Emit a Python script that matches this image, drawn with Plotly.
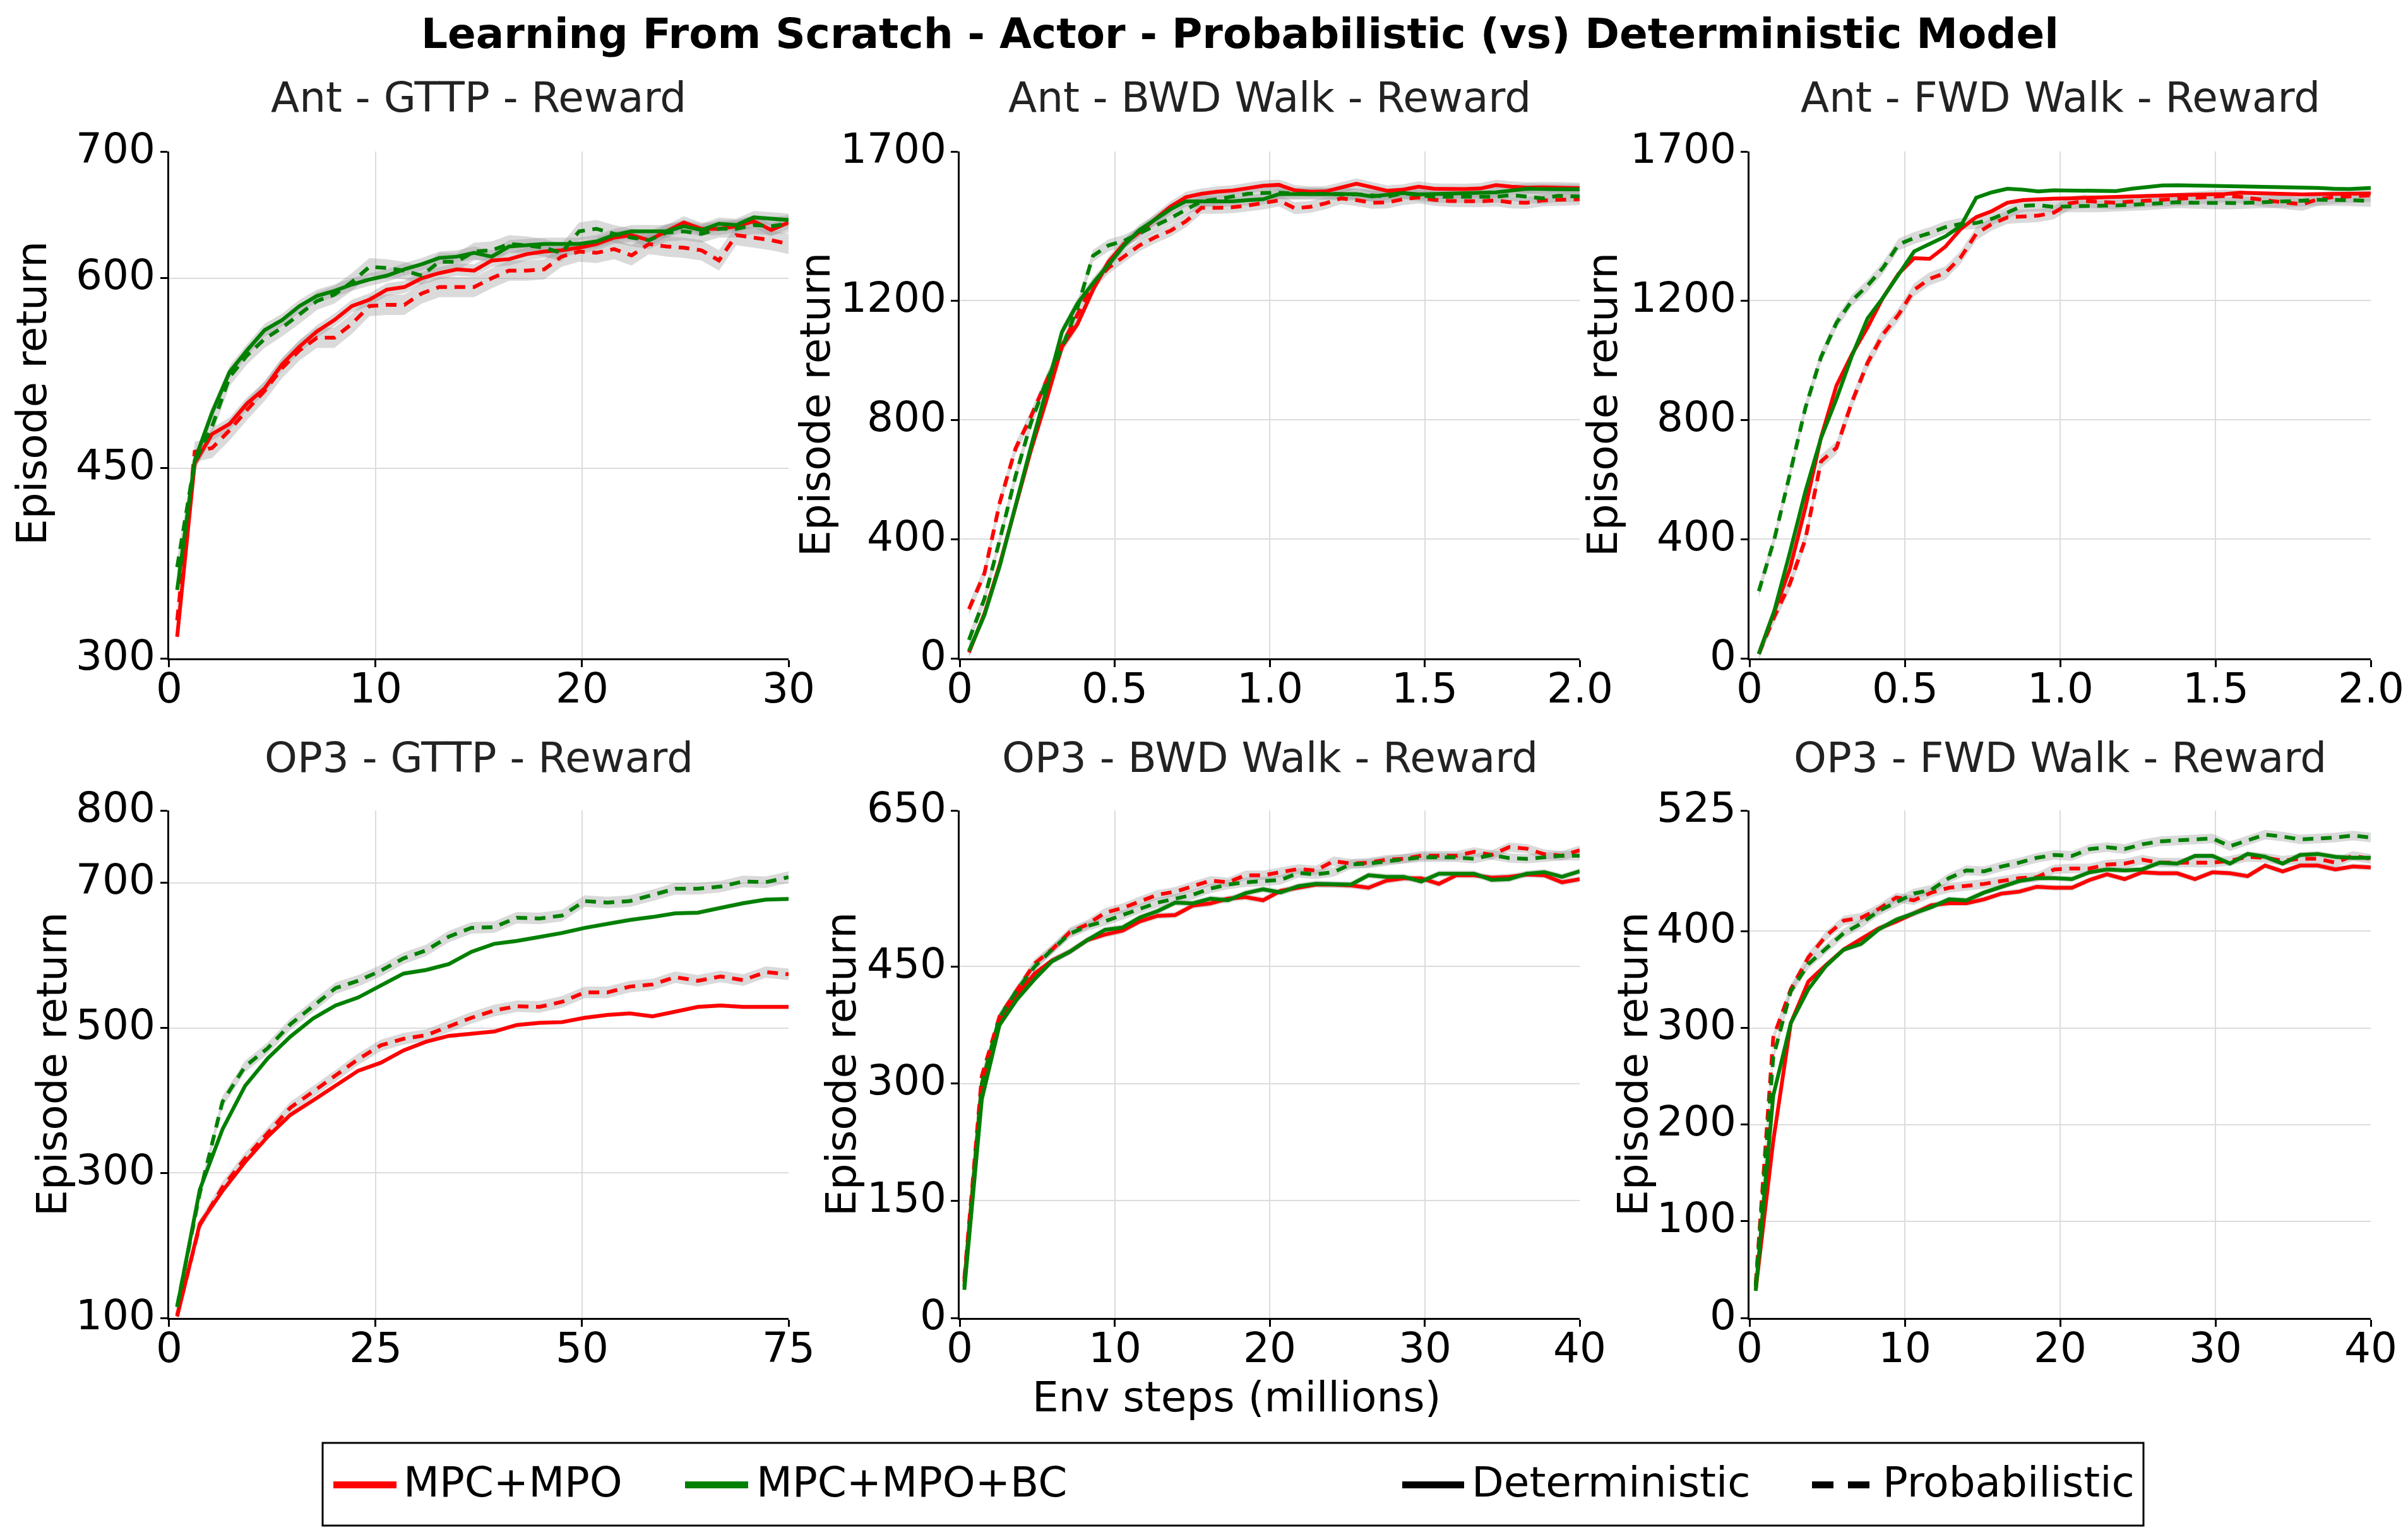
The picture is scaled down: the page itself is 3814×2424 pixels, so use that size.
import numpy as np
import plotly.graph_objects as go

W, H = 3814, 2424
FONT = "DejaVu Sans"
FS = 66
RED = "#ff0000"
GREEN = "#008000"
BAND = "rgba(150,150,150,0.35)"

# ---------------- data ----------------
# order of series in each panel: MPC+MPO det, MPC+MPO prob, MPC+MPO+BC det, MPC+MPO+BC prob

ant_gttp_x = [0.4, 1.25, 2.09, 2.94, 3.78, 4.63, 5.48, 6.32, 7.17, 8.01, 8.86, 9.71,
              10.55, 11.4, 12.24, 13.09, 13.94, 14.78, 15.63, 16.47, 17.32, 18.17, 19.01, 19.86,
              20.7, 21.55, 22.4, 23.24, 24.09, 24.93, 25.78, 26.63, 27.47, 28.32, 29.16, 30.0]
ant_gttp_mpo_det = [317, 454, 477, 485, 501, 513, 532, 546, 558, 567, 578, 583, 591, 593, 600, 604, 607, 606,
                    614, 615, 619, 621, 622, 624, 627, 632, 634, 630, 637, 644, 639, 639, 641, 645, 638, 644]
ant_gttp_mpo_prob = [330, 463, 466, 480, 496, 511, 529, 543, 553, 553, 564, 578, 579, 579, 588, 593, 593, 593,
                     600, 606, 606, 607, 617, 621, 620, 623, 618, 627, 625, 624, 622, 614, 634, 632, 630, 627]
ant_gttp_bc_det = [354, 456, 494, 526, 543, 559, 567, 578, 586, 590, 595, 599, 602, 607, 611, 616, 617, 620,
                   617, 625, 626, 627, 627, 627, 629, 634, 637, 637, 637, 641, 638, 643, 642, 648, 647, 646]
ant_gttp_bc_prob = [372, 455, 483, 522, 539, 552, 561, 571, 582, 587, 597, 609, 608, 606, 602, 613, 613, 621,
                    622, 627, 626, 624, 620, 637, 639, 635, 632, 630, 636, 637, 635, 639, 639, 642, 641, 643]
ant_gttp_spread = [5, 8, 5, 7]

ant_walk_x = [0.03, 0.08, 0.13, 0.18, 0.23, 0.28, 0.33, 0.38, 0.43, 0.48, 0.53, 0.58, 0.63, 0.68,
              0.73, 0.78, 0.83, 0.88, 0.93, 0.98, 1.03, 1.08, 1.13, 1.18, 1.23, 1.28, 1.33, 1.38,
              1.43, 1.48, 1.53, 1.58, 1.63, 1.68, 1.73, 1.78, 1.83, 1.88, 1.93, 2.0]
ant_bwd_mpo_det = [20, 150, 318, 508, 698, 866, 1045, 1121, 1236, 1330,
                   1390, 1430, 1473, 1515, 1547, 1558, 1565, 1569, 1577, 1585,
                   1588, 1570, 1565, 1566, 1579, 1592, 1580, 1568, 1572, 1582,
                   1575, 1574, 1574, 1576, 1587, 1582, 1579, 1580, 1580, 1577]
ant_bwd_mpo_prob = [165, 285, 525, 703, 811, 933, 1049, 1153, 1254, 1310,
                    1348, 1385, 1412, 1434, 1466, 1511, 1511, 1513, 1519, 1526,
                    1536, 1510, 1514, 1526, 1543, 1537, 1528, 1529, 1540, 1546,
                    1538, 1534, 1533, 1533, 1536, 1529, 1528, 1536, 1538, 1540]
ant_bwd_bc_det = [25, 145, 312, 514, 710, 900, 1095, 1190, 1258, 1320,
                  1385, 1437, 1470, 1506, 1533, 1533, 1531, 1533, 1537, 1540,
                  1557, 1557, 1558, 1559, 1559, 1557, 1549, 1556, 1561, 1556,
                  1558, 1560, 1562, 1563, 1563, 1569, 1575, 1574, 1573, 1573]
ant_bwd_bc_prob = [62, 200, 400, 610, 790, 930, 1040, 1177, 1350, 1385,
                   1400, 1425, 1450, 1476, 1505, 1533, 1540, 1550, 1558, 1561,
                   1562, 1559, 1559, 1558, 1556, 1556, 1553, 1548, 1560, 1553,
                   1548, 1548, 1548, 1548, 1548, 1554, 1548, 1543, 1551, 1549]
ant_bwd_spread = [18, 20, 18, 20]

ant_fwd_mpo_det = [15, 160, 300, 506, 740, 915, 1020, 1110, 1210, 1290,
                   1342, 1340, 1380, 1440, 1480, 1500, 1528, 1537, 1541, 1542,
                   1543, 1545, 1547, 1548, 1550, 1551, 1553, 1554, 1555, 1555,
                   1557, 1562, 1560, 1557, 1556, 1556, 1557, 1558, 1558, 1559]
ant_fwd_mpo_prob = [15, 140, 250, 400, 660, 706, 860, 991, 1087, 1153,
                    1236, 1273, 1292, 1345, 1424, 1457, 1479, 1483, 1485, 1495,
                    1526, 1534, 1530, 1528, 1532, 1535, 1536, 1540, 1543, 1548,
                    1551, 1548, 1540, 1534, 1528, 1523, 1540, 1547, 1549, 1553]
ant_fwd_bc_det = [15, 160, 355, 560, 738, 870, 1015, 1140, 1210, 1290,
                  1365, 1390, 1415, 1450, 1545, 1563, 1575, 1572, 1566, 1570,
                  1569, 1567, 1566, 1567, 1575, 1581, 1586, 1587, 1586, 1585,
                  1585, 1584, 1584, 1583, 1582, 1580, 1578, 1575, 1574, 1578]
ant_fwd_bc_prob = [225, 400, 618, 840, 1010, 1125, 1200, 1250, 1310, 1388,
                   1410, 1426, 1446, 1457, 1460, 1474, 1495, 1518, 1520, 1514,
                   1516, 1516, 1516, 1519, 1521, 1523, 1527, 1530, 1528, 1527,
                   1526, 1527, 1529, 1530, 1532, 1535, 1538, 1538, 1537, 1534]
ant_fwd_spread = [6, 22, 5, 20]

op3_gttp_x = [1.0, 3.74, 6.48, 9.22, 11.96, 14.7, 17.44, 20.18, 22.92, 25.66, 28.4, 31.14, 33.88, 36.62,
              39.36, 42.1, 44.84, 47.58, 50.32, 53.06, 55.8, 58.54, 61.28, 64.02, 66.76, 69.5, 72.24, 75.0]
op3_gttp_mpo_det = [102, 230, 275, 315, 350, 380, 400, 420, 441, 452, 469, 481, 489, 492,
                    495, 504, 507, 508, 514, 518, 520, 516, 522, 529, 531, 529, 529, 529]
op3_gttp_mpo_prob = [104, 228, 280, 320, 355, 390, 412, 434, 457, 476, 485, 490, 502, 514,
                     524, 530, 529, 536, 549, 549, 557, 560, 570, 565, 571, 566, 577, 574]
op3_gttp_bc_det = [115, 277, 360, 420, 458, 488, 513, 531, 542, 559, 575, 580, 588, 605,
                   616, 620, 625, 631, 638, 644, 649, 653, 658, 659, 666, 672, 677, 678]
op3_gttp_bc_prob = [116, 272, 398, 447, 472, 505, 530, 555, 565, 579, 596, 607, 626, 638,
                    639, 652, 651, 655, 675, 673, 675, 683, 692, 692, 695, 702, 701, 708]
op3_gttp_spread = [3, 8, 3, 8]

op3_bwd_x = [0.3, 1.43, 2.57, 3.7, 4.84, 5.97, 7.1, 8.24, 9.37, 10.51, 11.64, 12.77, 13.91, 15.04,
             16.18, 17.31, 18.44, 19.58, 20.71, 21.85, 22.98, 24.11, 25.25, 26.38, 27.52, 28.65,
             29.78, 30.92, 32.05, 33.19, 34.32, 35.45, 36.59, 37.72, 38.86, 40.0]
op3_bwd_mpo_det = [46, 300, 380, 414, 441, 458, 469, 484, 491, 496,
                   508, 515, 516, 528, 531, 537, 539, 535, 547, 551,
                   555, 555, 554, 551, 560, 563, 563, 556, 567, 567,
                   564, 565, 568, 567, 558, 562]
op3_bwd_mpo_prob = [50, 310, 386, 420, 454, 472, 494, 504, 519, 525,
                    534, 542, 546, 553, 560, 558, 567, 567, 571, 575,
                    573, 585, 582, 583, 587, 588, 592, 592, 592, 597,
                    593, 603, 601, 594, 592, 599]
op3_bwd_bc_det = [36, 280, 375, 408, 434, 457, 469, 484, 497, 500,
                  513, 521, 532, 531, 537, 535, 544, 549, 545, 553,
                  556, 555, 555, 567, 565, 565, 559, 569, 569, 569,
                  561, 562, 569, 571, 565, 572]
op3_bwd_bc_prob = [40, 300, 385, 420, 450, 472, 492, 502, 508, 516,
                   524, 532, 537, 542, 550, 555, 558, 559, 561, 570,
                   568, 571, 581, 582, 585, 588, 590, 590, 590, 588,
                   593, 589, 588, 590, 592, 592]
op3_bwd_spread = [4, 6, 4, 6]

op3_fwd_x = [0.4, 1.53, 2.66, 3.79, 4.92, 6.06, 7.19, 8.32, 9.45, 10.58, 11.71, 12.84, 13.97, 15.1,
             16.23, 17.37, 18.5, 19.63, 20.76, 21.89, 23.02, 24.15, 25.28, 26.41, 27.54, 28.68,
             29.81, 30.94, 32.07, 33.2, 34.33, 35.46, 36.59, 37.72, 38.85, 40.0]
op3_fwd_mpo_det = [29, 183, 305, 348, 365, 381, 392, 403, 410, 419,
                   427, 429, 429, 433, 439, 441, 446, 445, 445, 453,
                   459, 454, 461, 460, 460, 454, 461, 460, 457, 468,
                   462, 468, 468, 464, 467, 466]
op3_fwd_mpo_prob = [35, 290, 340, 373, 395, 411, 414, 423, 435, 432,
                    440, 445, 447, 449, 452, 455, 456, 464, 465, 465,
                    469, 470, 474, 471, 471, 471, 471, 473, 477, 476,
                    473, 475, 475, 471, 478, 475]
op3_fwd_bc_det = [28, 230, 305, 340, 364, 381, 387, 402, 412, 418,
                  425, 433, 432, 440, 446, 452, 455, 455, 454, 461,
                  464, 463, 464, 471, 470, 478, 478, 470, 480, 477,
                  470, 479, 480, 477, 476, 476]
op3_fwd_bc_prob = [33, 270, 338, 366, 382, 398, 408, 421, 430, 439,
                   443, 455, 463, 462, 467, 471, 476, 479, 478, 485,
                   487, 485, 490, 493, 494, 495, 496, 488, 494, 500,
                   498, 495, 496, 497, 499, 497]
op3_fwd_spread = [3, 5, 3, 5]

panel_titles = ["Ant - GTTP - Reward", "Ant - BWD Walk - Reward", "Ant - FWD Walk - Reward",
                "OP3 - GTTP - Reward", "OP3 - BWD Walk - Reward", "OP3 - FWD Walk - Reward"]
walk_xticks = [0, 0.5, 1.0, 1.5, 2.0]
walk_xticktext = ["0", "0.5", "1.0", "1.5", "2.0"]

panels = [
    dict(x=ant_gttp_x, ys=[ant_gttp_mpo_det, ant_gttp_mpo_prob, ant_gttp_bc_det, ant_gttp_bc_prob],
         spread=ant_gttp_spread, xr=[0, 30], yr=[300, 700],
         xt=[0, 10, 20, 30], xtt=["0", "10", "20", "30"], yt=[300, 450, 600, 700]),
    dict(x=ant_walk_x, ys=[ant_bwd_mpo_det, ant_bwd_mpo_prob, ant_bwd_bc_det, ant_bwd_bc_prob],
         spread=ant_bwd_spread, xr=[0, 2], yr=[0, 1700],
         xt=walk_xticks, xtt=walk_xticktext, yt=[0, 400, 800, 1200, 1700]),
    dict(x=ant_walk_x, ys=[ant_fwd_mpo_det, ant_fwd_mpo_prob, ant_fwd_bc_det, ant_fwd_bc_prob],
         spread=ant_fwd_spread, xr=[0, 2], yr=[0, 1700],
         xt=walk_xticks, xtt=walk_xticktext, yt=[0, 400, 800, 1200, 1700]),
    dict(x=op3_gttp_x, ys=[op3_gttp_mpo_det, op3_gttp_mpo_prob, op3_gttp_bc_det, op3_gttp_bc_prob],
         spread=op3_gttp_spread, xr=[0, 75], yr=[100, 800],
         xt=[0, 25, 50, 75], xtt=["0", "25", "50", "75"], yt=[100, 300, 500, 700, 800]),
    dict(x=op3_bwd_x, ys=[op3_bwd_mpo_det, op3_bwd_mpo_prob, op3_bwd_bc_det, op3_bwd_bc_prob],
         spread=op3_bwd_spread, xr=[0, 40], yr=[0, 650],
         xt=[0, 10, 20, 30, 40], xtt=["0", "10", "20", "30", "40"], yt=[0, 150, 300, 450, 650]),
    dict(x=op3_fwd_x, ys=[op3_fwd_mpo_det, op3_fwd_mpo_prob, op3_fwd_bc_det, op3_fwd_bc_prob],
         spread=op3_fwd_spread, xr=[0, 40], yr=[0, 525],
         xt=[0, 10, 20, 30, 40], xtt=["0", "10", "20", "30", "40"], yt=[0, 100, 200, 300, 400, 525]),
]

series_colors = [RED, RED, GREEN, GREEN]
series_dash = ["solid", "17px,12px", "solid", "17px,12px"]

# ---------------- layout geometry (pixels in the 3814x2424 frame) ----------------
col_px = [(259.5, 1241), (1512, 2494), (2763, 3747)]
row_px = [(232, 1035), (1276, 2080)]
ytitle_px = [(42, 615), (1283, 633), (2530, 633), (74, 1678), (1324, 1678), (2578, 1678)]
title_row_y = [147, 1192]


def px(v):
    return v / W


def py(v):
    return 1 - v / H


def text_font(size=FS, color="black"):
    return dict(family=FONT, size=size, color=color)


fig = go.Figure()
annotations = []

for k, p in enumerate(panels):
    ax = "" if k == 0 else str(k + 1)
    xa, ya = "x" + ax, "y" + ax
    x = np.array(p["x"], dtype=float)
    # shaded bands first
    for s, yv in enumerate(p["ys"]):
        yv = np.array(yv, dtype=float)
        sd = p["spread"][s]
        fig.add_trace(go.Scatter(
            x=np.concatenate([x, x[::-1]]),
            y=np.concatenate([yv + sd, (yv - sd)[::-1]]),
            fill="toself", fillcolor=BAND, line=dict(width=0),
            mode="lines", hoverinfo="skip", showlegend=False,
            xaxis=xa, yaxis=ya))
    for s, yv in enumerate(p["ys"]):
        fig.add_trace(go.Scatter(
            x=x, y=yv, mode="lines",
            line=dict(color=series_colors[s], width=6, dash=series_dash[s]),
            showlegend=False, xaxis=xa, yaxis=ya))

    r, c = divmod(k, 3)
    axis_common = dict(
        showline=True, linecolor="black", linewidth=3, mirror=False,
        ticks="outside", ticklen=11, tickwidth=3, tickcolor="black",
        showgrid=True, gridcolor="#dcdcdc", gridwidth=2, zeroline=False,
        showticklabels=False,
    )
    fig.layout["xaxis" + ax] = dict(
        axis_common, domain=[px(col_px[c][0]), px(col_px[c][1])],
        range=p["xr"], tickmode="array", tickvals=p["xt"], anchor=ya)
    fig.layout["yaxis" + ax] = dict(
        axis_common, domain=[py(row_px[r][1]), py(row_px[r][0])],
        range=p["yr"], tickmode="array", tickvals=p["yt"], anchor=xa)

    # tick labels, placed like the matplotlib originals
    for v in p["yt"]:
        annotations.append(dict(
            text=str(v), x=px(col_px[c][0] - 19), xref="paper", y=v, yref=ya,
            xanchor="right", yanchor="middle", yshift=5, showarrow=False,
            font=text_font()))
    for v, t in zip(p["xt"], p["xtt"]):
        annotations.append(dict(
            text=t, x=v, xref=xa, y=py(row_px[r][1] + 7), yref="paper",
            xanchor="center", yanchor="top", showarrow=False, font=text_font()))

for k, t in enumerate(panel_titles):
    r, c = divmod(k, 3)
    annotations.append(dict(
        text=t, x=px((col_px[c][0] + col_px[c][1]) / 2), y=py(title_row_y[r]),
        xref="paper", yref="paper", xanchor="center", yanchor="middle", showarrow=False,
        font=text_font(color="#222222")))
    annotations.append(dict(
        text="Episode return", x=px(ytitle_px[k][0]), y=py(ytitle_px[k][1]),
        xref="paper", yref="paper", xanchor="center", yanchor="middle", showarrow=False,
        textangle=-90, font=text_font()))

annotations.append(dict(
    text="<b>Learning From Scratch - Actor - Probabilistic (vs) Deterministic Model</b>",
    x=px(1956), y=py(46), xref="paper", yref="paper", xanchor="center", yanchor="middle",
    showarrow=False, font=text_font()))
annotations.append(dict(
    text="Env steps (millions)", x=px(1950), y=py(2205), xref="paper", yref="paper",
    xanchor="center", yanchor="middle", showarrow=False, font=text_font()))

# hand-built legend
legend_items = [
    ("MPC+MPO", RED, "solid", 520, 620, 629),
    ("MPC+MPO+BC", GREEN, "solid", 1077, 1177, 1188),
    ("Deterministic", "black", "solid", 2213, 2311, 2321),
    ("Probabilistic", "black", "34px,23px", 2862, 2953, 2972),
]
shapes = [dict(type="rect", xref="paper", yref="paper",
               x0=px(503), x1=px(3387), y0=py(2409), y1=py(2278),
               line=dict(color="black", width=3), fillcolor="white", layer="above")]
for label, col, dash, x0, x1, tx in legend_items:
    shapes.append(dict(type="line", xref="paper", yref="paper",
                       x0=px(x0), x1=px(x1), y0=py(2344.5), y1=py(2344.5),
                       line=dict(color=col, width=11, dash=dash), layer="above"))
    annotations.append(dict(
        text=label, x=px(tx), y=py(2340), xref="paper", yref="paper",
        xanchor="left", yanchor="middle", showarrow=False, font=text_font()))

fig.update_layout(
    width=W, height=H,
    margin=dict(l=0, r=0, t=0, b=0),
    paper_bgcolor="white", plot_bgcolor="white",
    showlegend=False,
    annotations=annotations, shapes=shapes,
    font=dict(family=FONT),
)

fig.write_html("out.html")
